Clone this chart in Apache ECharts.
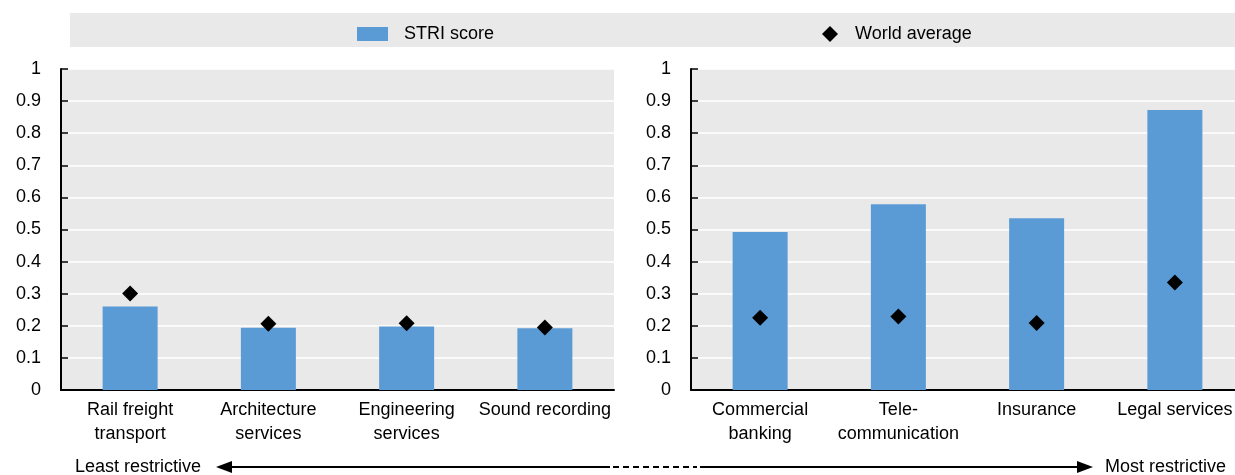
<!DOCTYPE html>
<html>
<head>
<meta charset="utf-8">
<script src="https://cdn.jsdelivr.net/npm/echarts@6/dist/echarts.min.js"></script>
<style>
  html, body { margin: 0; padding: 0; background: #fff; }
  #chart { width: 1235px; height: 475px; }
</style>
</head>
<body>
<div id="chart"></div>
<script>
// Services sectors, least to most restrictive
const leftCategories = ['Rail freight\ntransport', 'Architecture\nservices', 'Engineering\nservices', 'Sound recording'];
const rightCategories = ['Commercial\nbanking', 'Tele-\ncommunication', 'Insurance', 'Legal services'];

// STRI score per sector
const leftScores = [0.260, 0.194, 0.198, 0.192];
const rightScores = [0.492, 0.579, 0.535, 0.872];

// World average per sector
const leftWorld = [0.301, 0.206, 0.208, 0.195];
const rightWorld = [0.225, 0.229, 0.209, 0.335];

const seriesNames = ['STRI score', 'World average'];
const arrowLabels = ['Least restrictive', 'Most restrictive'];

const FONT = '"Liberation Sans", Arial, sans-serif';
const BAR_COLOR = '#5b9bd5';
const PLOT_BG = '#e9e9e9';

const chart = echarts.init(document.getElementById('chart'), null, { renderer: 'canvas' });

function makeGrid(left) {
  return {
    left: left, top: 69, width: 553, height: 321,
    show: true, backgroundColor: PLOT_BG, borderWidth: 0,
    containLabel: false, outerBoundsMode: 'none'
  };
}

function makeXAxis(idx, cats) {
  return {
    type: 'category', gridIndex: idx, data: cats,
    axisLine: { show: true, lineStyle: { color: '#000', width: 2 } },
    axisTick: { show: false },
    axisLabel: {
      interval: 0, color: '#000', fontSize: 18, lineHeight: 24,
      fontFamily: FONT, margin: 8
    },
    splitLine: { show: false }
  };
}

function makeYAxis(idx) {
  return {
    type: 'value', gridIndex: idx, min: 0, max: 1, interval: 0.1,
    axisLine: { show: true, lineStyle: { color: '#000', width: 2 } },
    axisTick: { show: true, inside: true, length: 7, lineStyle: { color: '#000', width: 1.5 } },
    axisLabel: { color: '#000', fontSize: 18, fontFamily: FONT, margin: 20 },
    splitLine: { show: true, lineStyle: { color: '#fff', width: 1.5 } }
  };
}

function barSeries(idx, values) {
  return {
    name: seriesNames[0], type: 'bar', xAxisIndex: idx, yAxisIndex: idx,
    data: values, barWidth: 55, itemStyle: { color: BAR_COLOR },
    silent: true, z: 2
  };
}

function worldSeries(idx, values) {
  return {
    name: seriesNames[1], type: 'scatter', xAxisIndex: idx, yAxisIndex: idx,
    data: values, symbol: 'diamond', symbolSize: 16,
    itemStyle: { color: '#000', opacity: 1 }, silent: true, z: 3
  };
}

const arrowY = 467;

chart.setOption({
  animation: false,
  textStyle: { fontFamily: FONT },
  grid: [makeGrid(61), makeGrid(691)],
  xAxis: [makeXAxis(0, leftCategories), makeXAxis(1, rightCategories)],
  yAxis: [makeYAxis(0), makeYAxis(1)],
  legend: [
    {
      data: [{ name: seriesNames[0], icon: 'rect' }],
      left: 357, top: 25, padding: 0,
      itemWidth: 31, itemHeight: 14,
      textStyle: { fontSize: 18, color: '#000', fontFamily: FONT, padding: [0, 0, 0, 11] },
      selectedMode: false
    },
    {
      data: [{ name: seriesNames[1], icon: 'diamond' }],
      left: 822, top: 25, padding: 0,
      itemWidth: 16, itemHeight: 16,
      textStyle: { fontSize: 18, color: '#000', fontFamily: FONT, padding: [0, 0, 0, 12] },
      itemStyle: { color: '#000', opacity: 1 },
      selectedMode: false
    }
  ],
  graphic: [
    // legend band
    { type: 'rect', left: 70, top: 13, shape: { width: 1165, height: 34 },
      style: { fill: PLOT_BG }, z: -10, silent: true },
    // direction arrow
    { type: 'line', shape: { x1: 228, y1: arrowY, x2: 610, y2: arrowY },
      style: { stroke: '#000', lineWidth: 2 }, silent: true },
    { type: 'line', shape: { x1: 613, y1: arrowY, x2: 697, y2: arrowY },
      style: { stroke: '#000', lineWidth: 2, lineDash: [6, 4] }, silent: true },
    { type: 'line', shape: { x1: 700, y1: arrowY, x2: 1080, y2: arrowY },
      style: { stroke: '#000', lineWidth: 2 }, silent: true },
    { type: 'polygon', shape: { points: [[216, arrowY], [232, arrowY - 6], [232, arrowY + 6]] },
      style: { fill: '#000' }, silent: true },
    { type: 'polygon', shape: { points: [[1093, arrowY], [1077, arrowY - 6], [1077, arrowY + 6]] },
      style: { fill: '#000' }, silent: true },
    { type: 'text', x: 75, y: arrowY,
      style: { text: arrowLabels[0], font: '18px ' + FONT, fill: '#000', verticalAlign: 'middle', align: 'left' },
      silent: true },
    { type: 'text', x: 1105, y: arrowY,
      style: { text: arrowLabels[1], font: '18px ' + FONT, fill: '#000', verticalAlign: 'middle', align: 'left' },
      silent: true }
  ],
  series: [
    barSeries(0, leftScores),
    worldSeries(0, leftWorld),
    barSeries(1, rightScores),
    worldSeries(1, rightWorld)
  ]
});
</script>
</body>
</html>
